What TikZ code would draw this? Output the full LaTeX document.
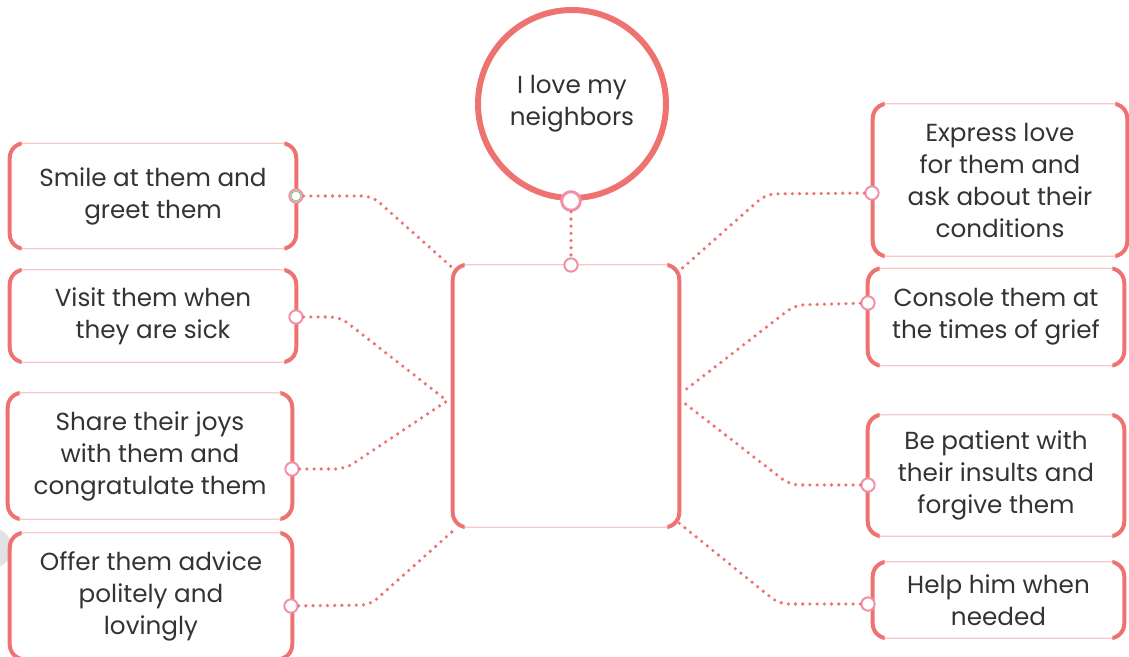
\documentclass[tikz,border=0pt]{standalone}
\usepackage{fontspec}
\setmainfont{Poppins}
\usetikzlibrary{calc}
\definecolor{salmon}{HTML}{EE7370}
\definecolor{lpink}{HTML}{F9CACC}
\definecolor{cpink}{HTML}{F290A8}
\definecolor{txt}{HTML}{333333}
\definecolor{gart}{HTML}{E2E2E4}
\begin{document}
\begin{tikzpicture}[x=0.75pt,y=-0.75pt,
  card/.style={inner sep=0pt, align=center, text=txt, font=\fontsize{18.5}{24}\selectfont},
  port/.style={circle, draw=cpink, fill=white, line width=1.5pt, minimum size=10pt, inner sep=0pt},
  bigport/.style={circle, draw=cpink, fill=white, line width=2.2pt, minimum size=14pt, inner sep=0pt},
  dotline/.style={draw=salmon, line width=2.7pt, line cap=round, dash pattern=on 0pt off 5.4pt, rounded corners=7pt},
  sidestroke/.style={draw=salmon, line width=3pt, rounded corners=11pt},
  edgestroke/.style={draw=lpink, line width=1pt, rounded corners=11pt}]
\useasboundingbox (0,0) rectangle (1129,657);
\fill[gart] (-8,548) circle[radius=15pt];

% main circle
\node[circle, draw=salmon, line width=4.5pt, minimum size=141pt, inner sep=0pt, text=txt,
      align=center, font=\fontsize{18.5}{24}\selectfont] (top) at (572,104) {I love my\\neighbors};

% cards
\node[card, minimum width=214.5pt, minimum height=78.75pt] (L1) at (153,196) {Smile at them and\\greet them};
\node[card, minimum width=214.5pt, minimum height=69pt] (L2) at (153,316) {Visit them when\\they are sick};
\node[card, minimum width=213pt, minimum height=94.5pt] (L3) at (150,456) {Share their joys\\with them and\\congratulate them};
\node[card, minimum width=211.5pt, minimum height=94.5pt] (L4) at (151,596) {Offer them advice\\politely and\\lovingly};
\node[card, minimum width=190.5pt, minimum height=114pt] (R1) at (1000,180) {Express love\\for them and\\ask about their\\conditions};
\node[card, minimum width=192pt, minimum height=72.75pt] (R2) at (996,317) {Console them at\\the times of grief};
\node[card, minimum width=192pt, minimum height=90.75pt] (R3) at (996,475.5) {Be patient with\\their insults and\\forgive them};
\node[card, minimum width=188.25pt, minimum height=57pt] (R4) at (998.5,600) {Help him when\\needed};
\node[card, minimum width=169.5pt, minimum height=196.5pt] (C) at (566,396) {};

\foreach \n in {L1,L2,L3,L4,R1,R2,R3,R4,C}{
  \draw[edgestroke] (\n.north west) rectangle (\n.south east);
  \begin{scope}
    \clip ([xshift=-4pt,yshift=4pt]\n.north west) rectangle ([xshift=9pt,yshift=-4pt]\n.south west);
    \draw[sidestroke] (\n.north west) rectangle (\n.south east);
  \end{scope}
  \begin{scope}
    \clip ([xshift=4pt,yshift=4pt]\n.north east) rectangle ([xshift=-9pt,yshift=-4pt]\n.south east);
    \draw[sidestroke] (\n.north east) rectangle (\n.south west);
  \end{scope}
}

% ports
\node[bigport] (ptop) at (571,201) {};
\node[port] (pC) at (571,265) {};
\node[port] (pL1) at (296,196) {};
\node[draw=green!60!black!60, circle, line width=0.6pt, minimum size=7.5pt, inner sep=0pt] at (296,196) {};
\node[port] (pL2) at (296,317) {};
\node[port] (pL3) at (292,469) {};
\node[port] (pL4) at (291,606) {};
\node[port] (pR1) at (872,193) {};
\node[port] (pR2) at (868,303) {};
\node[port] (pR3) at (868,485) {};
\node[port] (pR4) at (868,604) {};

% targets on the centre card
\coordinate (tL1) at (455,270);
\coordinate (tL2) at (446,400);
\coordinate (tL3) at (447,401);
\coordinate (tL4) at (454,530);
\coordinate (tR1) at (678,272);
\coordinate (tR2) at (684,391);
\coordinate (tR3) at (683,402);
\coordinate (tR4) at (679,523);

% connectors
\draw[dotline] (ptop) -- (pC);
\draw[dotline] (pL1) -- (372,196) -- (tL1);
\draw[dotline] (pL2) -- (340,317) -- (tL2);
\draw[dotline] (pL3) -- (345,469) -- (tL3);
\draw[dotline] (pL4) -- (370,605) -- (tL4);
\draw[dotline] (pR1) -- (766,194) -- (tR1);
\draw[dotline] (pR2) -- (795,305) -- (tR2);
\draw[dotline] (pR3) -- (790,485) -- (tR3);
\draw[dotline] (pR4) -- (779,604) -- (tR4);
\end{tikzpicture}
\end{document}
